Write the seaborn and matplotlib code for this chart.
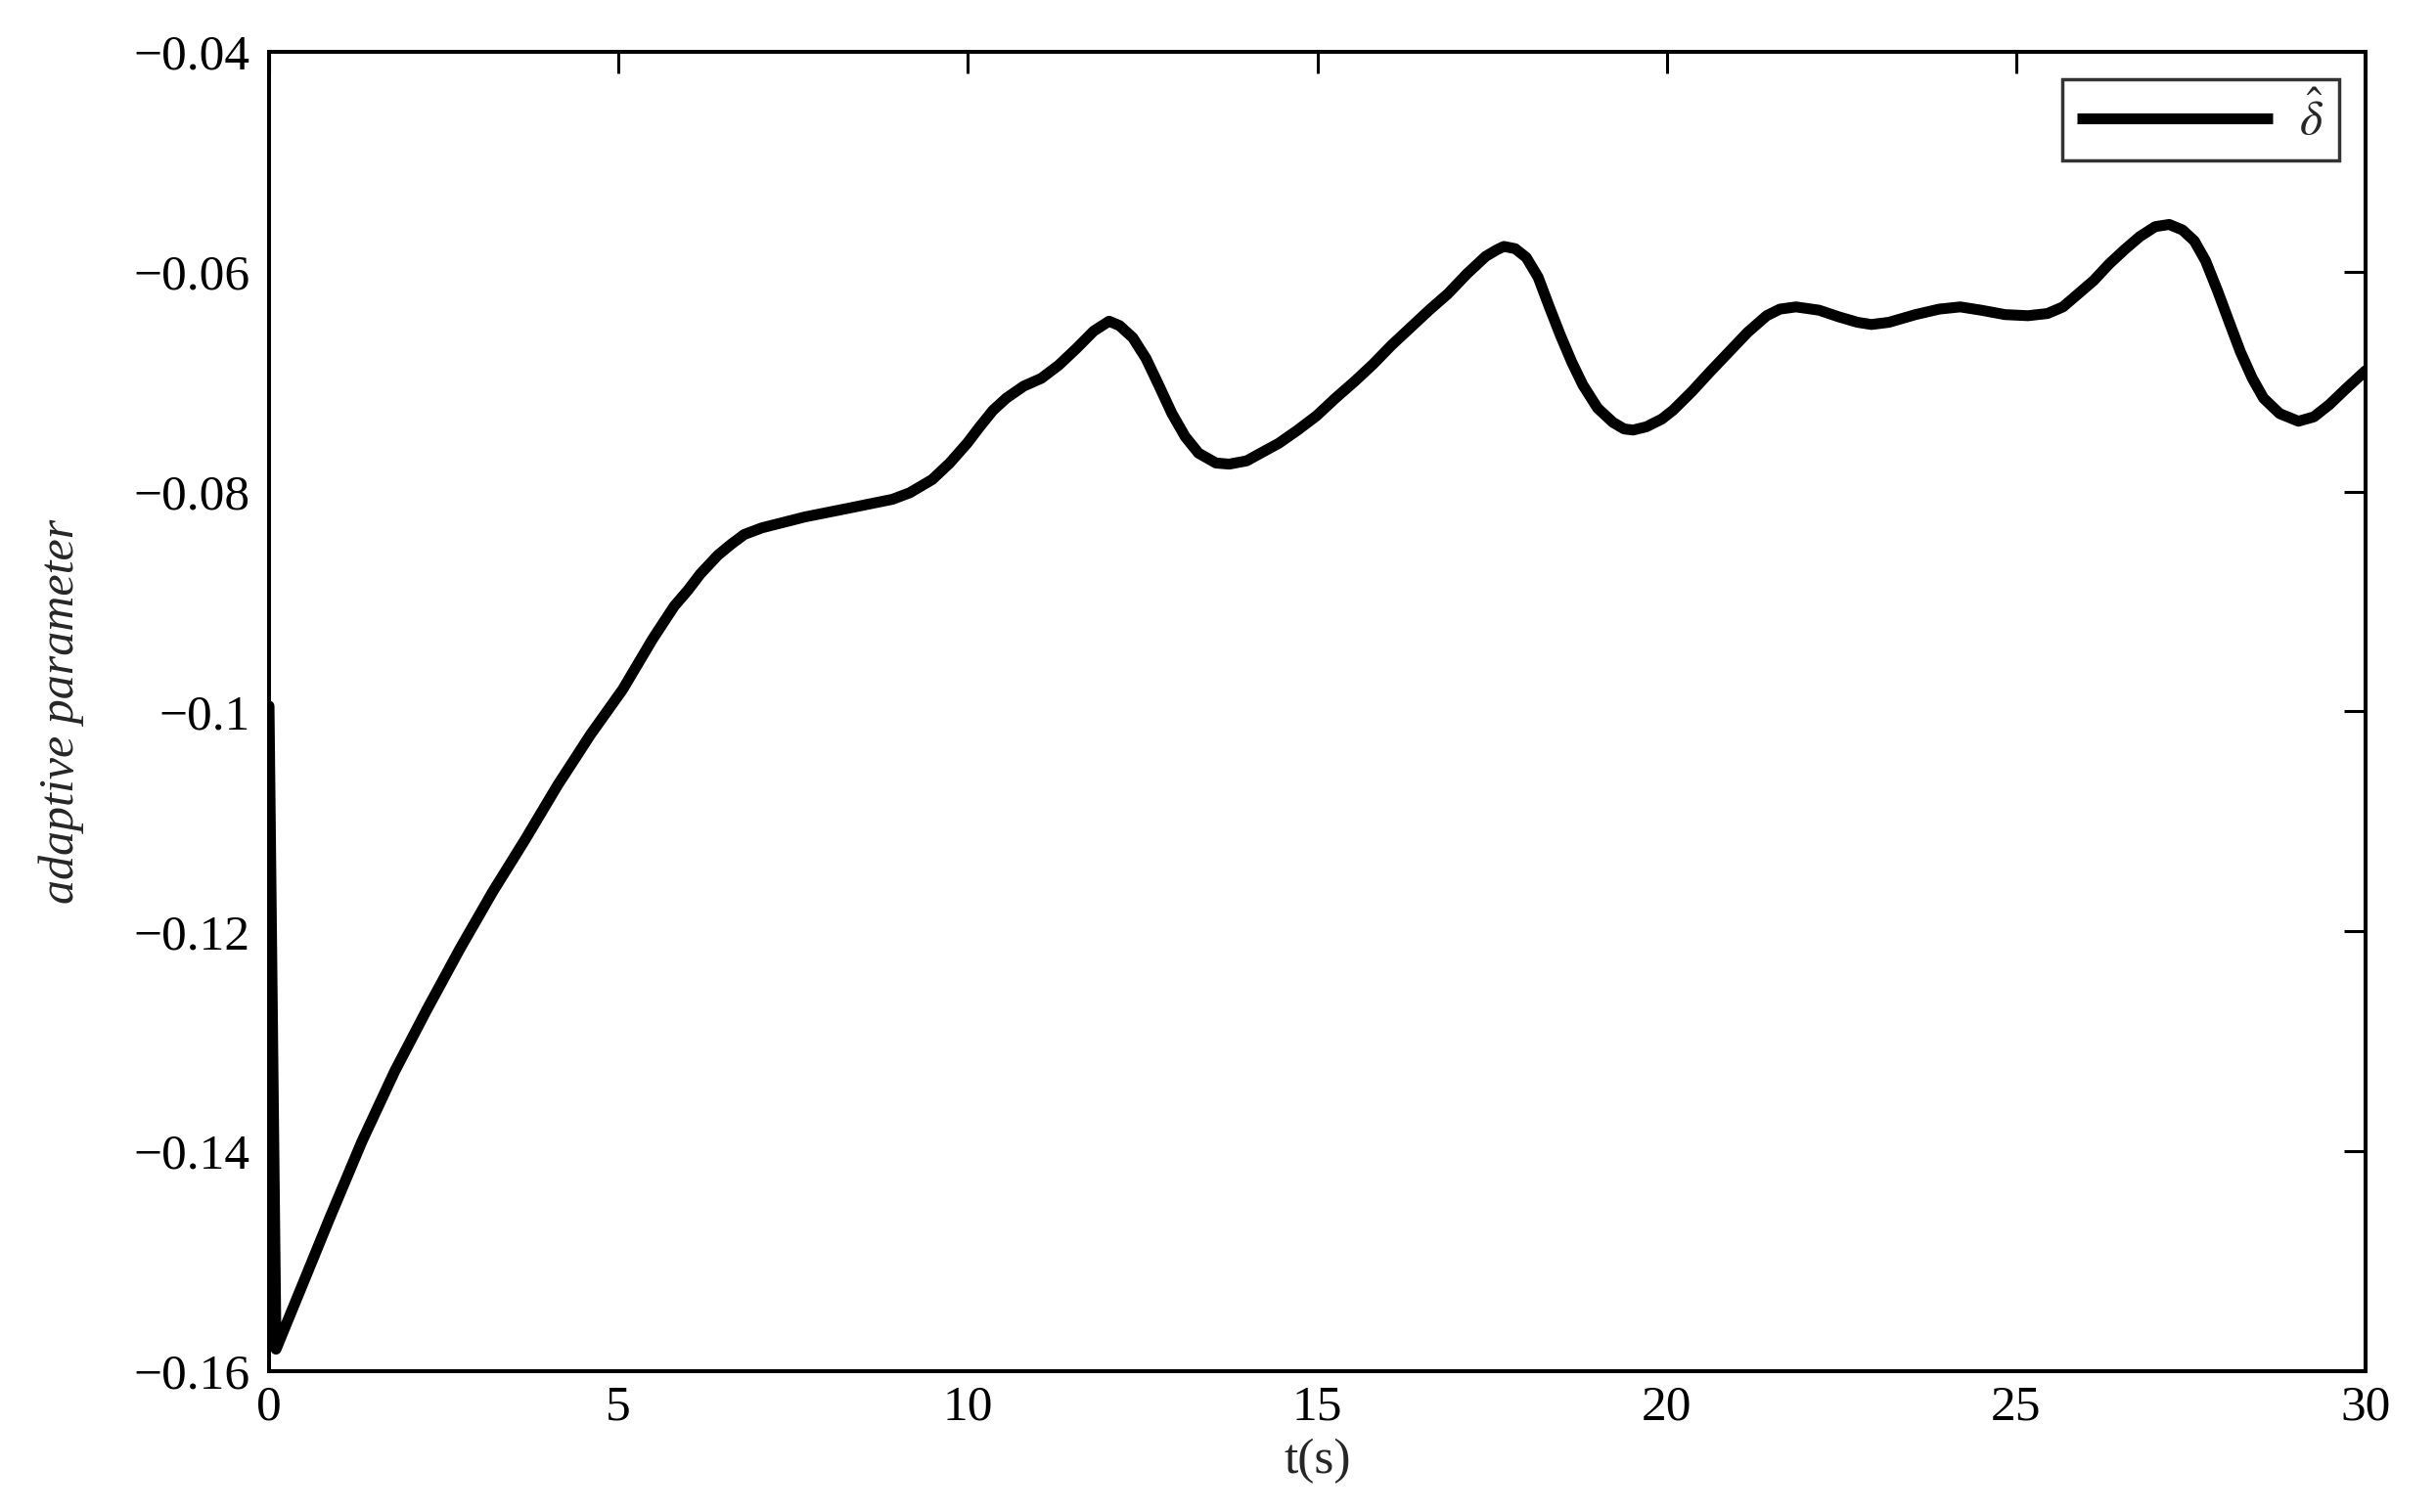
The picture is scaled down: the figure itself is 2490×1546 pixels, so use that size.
import matplotlib
matplotlib.use("Agg")
import matplotlib.pyplot as plt
import seaborn as sns
import pandas as pd

# ---- data ----
time_s = [0.0, 0.1, 0.5, 0.86, 1.33, 1.8, 2.26, 2.73, 3.2, 3.66, 4.13, 4.6, 5.06,
          5.49, 5.8, 5.99, 6.17, 6.42, 6.61, 6.80, 7.05, 7.67, 8.3, 8.92, 9.17,
          9.49, 9.74, 9.99, 10.17, 10.36, 10.55, 10.80, 11.05, 11.30, 11.55, 11.80,
          12.02, 12.17, 12.36, 12.55, 12.73, 12.92, 13.11, 13.30, 13.55, 13.74, 13.99,
          14.19, 14.45, 14.72, 14.99, 15.26, 15.53, 15.80, 16.06, 16.33, 16.60, 16.87,
          17.14, 17.41, 17.57, 17.67, 17.83, 17.99, 18.16, 18.32, 18.48, 18.64, 18.80,
          19.01, 19.23, 19.39, 19.52, 19.71, 19.93, 20.09, 20.36, 20.62, 20.89, 21.16,
          21.43, 21.62, 21.85, 22.18, 22.46, 22.73, 22.93, 23.18, 23.56, 23.90, 24.20,
          24.50, 24.84, 25.17, 25.45, 25.67, 25.89, 26.11, 26.33, 26.55, 26.77, 26.99,
          27.19, 27.38, 27.55, 27.71, 27.88, 28.05, 28.21, 28.38, 28.54, 28.77, 29.04,
          29.26, 29.48, 29.71, 30.0]
delta_hat = [-0.0995, -0.1580, -0.1518, -0.1462, -0.1391, -0.1327, -0.1271, -0.1216,
             -0.1164, -0.1117, -0.1067, -0.1021, -0.0980, -0.0934, -0.0904, -0.0890,
             -0.0875, -0.0858, -0.0848, -0.0839, -0.0833, -0.0823, -0.0815, -0.0807,
             -0.0801, -0.0789, -0.0774, -0.0756, -0.0741, -0.0726, -0.0715, -0.0704,
             -0.0697, -0.0685, -0.0670, -0.0654, -0.0645, -0.0649, -0.0660, -0.0679,
             -0.0703, -0.0729, -0.0750, -0.0765, -0.0774, -0.0775, -0.0772, -0.0765,
             -0.0756, -0.0744, -0.0731, -0.0715, -0.0700, -0.0684, -0.0667, -0.0651,
             -0.0635, -0.0620, -0.0602, -0.0586, -0.0580, -0.0577, -0.0579, -0.0587,
             -0.0605, -0.0632, -0.0658, -0.0682, -0.0703, -0.0724, -0.0737, -0.0743,
             -0.0744, -0.0741, -0.0734, -0.0726, -0.0709, -0.0691, -0.0673, -0.0655,
             -0.0640, -0.0634, -0.0632, -0.0635, -0.0641, -0.0646, -0.0648, -0.0646,
             -0.0639, -0.0634, -0.0632, -0.0635, -0.0639, -0.0640, -0.0638, -0.0632,
             -0.0620, -0.0608, -0.0593, -0.0580, -0.0568, -0.0559, -0.0557, -0.0562,
             -0.0572, -0.0590, -0.0617, -0.0646, -0.0673, -0.0697, -0.0715, -0.0729,
             -0.0736, -0.0732, -0.0721, -0.0707, -0.0690]
x_ticks = [0, 5, 10, 15, 20, 25, 30]
y_ticks = [-0.16, -0.14, -0.12, -0.10, -0.08, -0.06, -0.04]
y_tick_labels = ["\u22120.16", "\u22120.14", "\u22120.12", "\u22120.1", "\u22120.08",
                 "\u22120.06", "\u22120.04"]
x_label = "t(s)"
y_label = "adaptive parameter"
series_label = r"$\hat{\delta}$"

df = pd.DataFrame({"t": time_s, "v": delta_hat})

sns.set_style("white")
plt.rcParams["font.family"] = ["Liberation Serif", "DejaVu Serif"]
plt.rcParams["mathtext.fontset"] = "stix"

fig = plt.figure(figsize=(24.9, 15.46), dpi=100)
ax = fig.add_axes([275 / 2490, 1 - 1402 / 1546, (2418 - 275) / 2490, (1402 - 53) / 1546])

sns.lineplot(data=df, x="t", y="v", ax=ax, color="black", linewidth=8.0,
             label=series_label, sort=False, estimator=None)
for ln in ax.get_lines():
    ln.set_solid_joinstyle("round")
    ln.set_solid_capstyle("round")

ax.set_xlim(0, 30)
ax.set_ylim(-0.16, -0.04)
ax.set_xticks(x_ticks)
ax.set_xticklabels([str(v) for v in x_ticks])
ax.set_yticks(y_ticks)
ax.set_yticklabels(y_tick_labels)

ax.tick_params(axis="both", which="major", direction="in", length=16, width=2.2,
               labelsize=37, top=True, right=True, colors="black")
ax.tick_params(axis="x", pad=10)
ax.tick_params(axis="y", pad=14)

for s in ax.spines.values():
    s.set_visible(True)
    s.set_color("black")
    s.set_linewidth(2.9)

ax.set_xlabel(x_label, fontsize=37, labelpad=6)
ax.set_ylabel(y_label, fontsize=36, style="italic", labelpad=36)

leg = ax.legend(loc="upper right", fontsize=36, handlelength=4.0, frameon=True,
                fancybox=False, borderpad=0.3, borderaxespad=0.55,
                handletextpad=0.55)
leg.get_frame().set_edgecolor("black")
leg.get_frame().set_linewidth(2.5)
for h in leg.get_lines():
    h.set_linewidth(8.0)
    h.set_solid_capstyle("butt")

fig.savefig("out.png", dpi=100, facecolor="white")
